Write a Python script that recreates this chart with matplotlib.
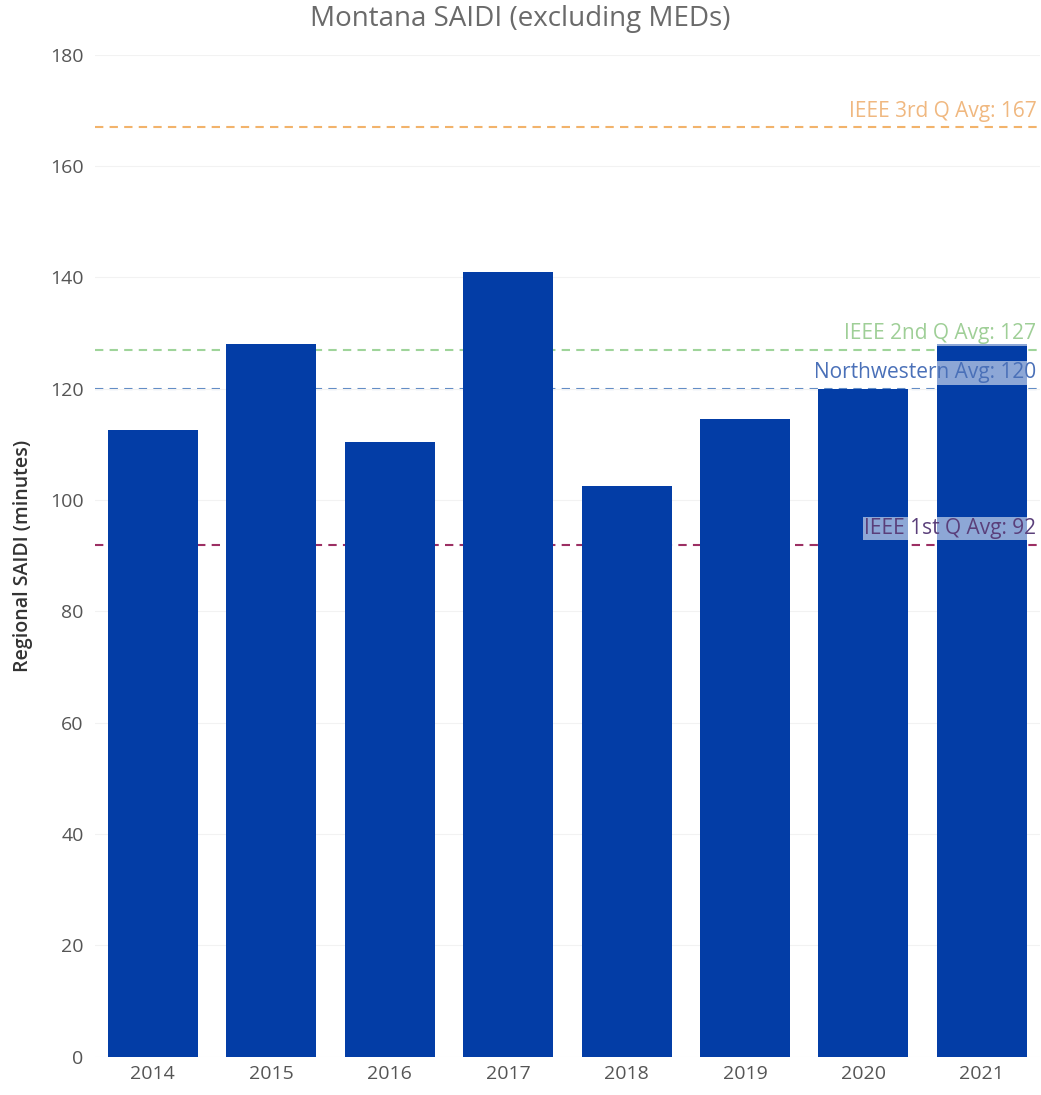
import matplotlib.pyplot as plt

plt.rcParams['font.family'] = ['Open Sans', 'DejaVu Sans']

years = ['2014', '2015', '2016', '2017', '2018', '2019', '2020', '2021']
saidi = [112.5, 128, 110.5, 141, 102.5, 114.5, 120, 128]

ref_labels = ['IEEE 3rd Q Avg: 167', 'IEEE 2nd Q Avg: 127',
              'Northwestern Avg: 120', 'IEEE 1st Q Avg: 92']
ref_values = [167, 127, 120, 92]
ref_colors = ['#f2b36b', '#9fd49a', '#5b88c4', '#9c2f63']
ref_text_colors = ['#f0b880', '#9fcf97', '#4a70b8', '#5a3f7a']

fig = plt.figure(figsize=(10.41, 10.95), dpi=100)
ax = fig.add_axes([0.091, 0.035, 0.908, 0.915])

x = range(len(years))
# reference lines sit behind the bars, labels on top
for val, col in zip(ref_values, ref_colors):
    ax.axhline(val, color=col, linestyle=(0, (4, 3)), linewidth=1.5, zorder=1)

ax.bar(x, saidi, width=0.76, color='#033da6', zorder=2)

for lab, val, tcol in zip(ref_labels, ref_values, ref_text_colors):
    ax.text(7.46, val + 1.0, lab, ha='right', va='bottom', fontsize=15,
            color=tcol, zorder=4,
            bbox=dict(facecolor='white', alpha=0.55, edgecolor='none', pad=1))

ax.set_xlim(-0.49, 7.49)
ax.set_ylim(0, 180)
ax.set_yticks(range(0, 181, 20))
ax.set_xticks(list(x))
ax.set_xticklabels(years)
ax.tick_params(axis='both', length=0, labelsize=14, labelcolor='#555555')
ax.tick_params(axis='y', pad=8)
ax.tick_params(axis='x', pad=6)
ax.grid(axis='y', color='#f2f2f2', linewidth=0.8, zorder=0)
for s in ax.spines.values():
    s.set_visible(False)

ax.set_ylabel('Regional SAIDI (minutes)', fontsize=14, color='#333333',
              fontweight='semibold', labelpad=12)
fig.suptitle('Montana SAIDI (excluding MEDs)', fontsize=20, color='#6a6a6a', y=0.995)

fig.savefig('out.png', dpi=100)
